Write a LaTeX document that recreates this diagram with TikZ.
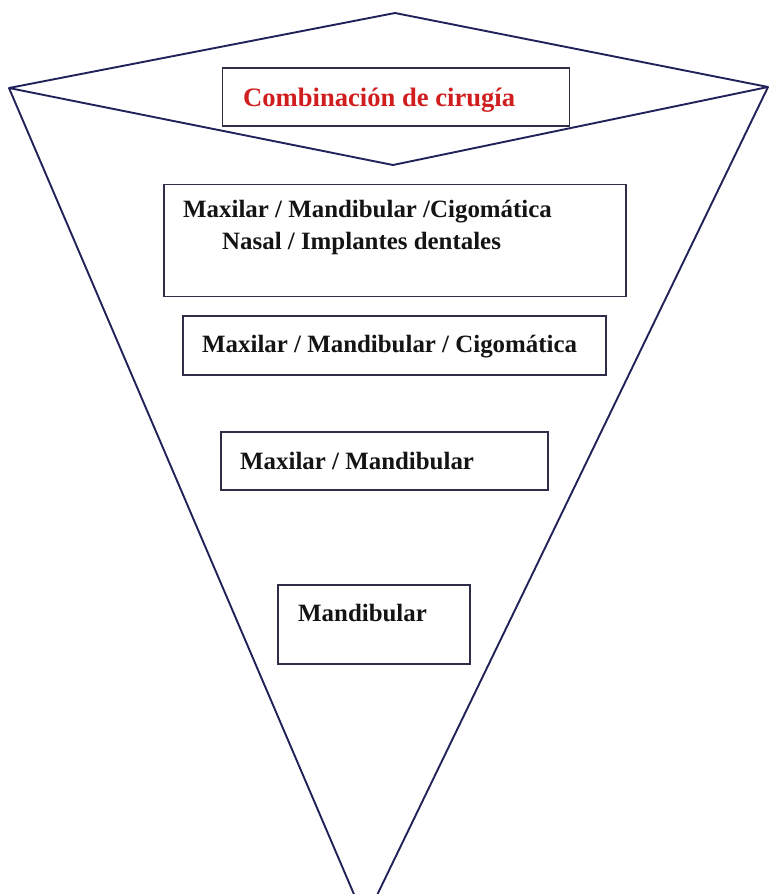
\documentclass[tikz,border=0pt]{standalone}
\usepackage{fontspec}
\setmainfont{Liberation Serif}
\definecolor{navy}{HTML}{22225A}
\definecolor{boxline}{HTML}{2E2E48}
\definecolor{redtxt}{HTML}{D01E1E}
\begin{document}
\begin{tikzpicture}[x=1pt,y=-1pt,
  outline/.style={draw=navy,line width=1.9pt,line join=round},
  levelbox/.style={draw=boxline,line width=1.5pt,fill=white,inner sep=0pt,minimum width=#1},
  lbl/.style={anchor=base west,inner sep=0pt,font=\bfseries\fontsize{24.9}{30}\selectfont,text=black!92}]
\useasboundingbox (0,0) rectangle (769,894);
\clip (0,0) rectangle (769,894);
% outline coordinates
\coordinate (top) at (395,13);
\coordinate (lv) at (9,88);
\coordinate (rv) at (768,87);
\coordinate (dbot) at (393,165);
\coordinate (tip) at (365,920);
% inverted triangle sides
\draw[outline] (lv) -- (tip) -- (rv);
% top diamond
\draw[outline] (top) -- (rv) -- (dbot) -- (lv) -- cycle;
% boxes
\node[levelbox=347pt,minimum height=58pt] (b1) at (396,97) {};
\node[levelbox=462pt,minimum height=112pt] (b2) at (395,240.5) {};
\node[levelbox=423pt,minimum height=59pt] (b3) at (394.5,345.5) {};
\node[levelbox=327pt,minimum height=58pt] (b4) at (384.5,461) {};
\node[levelbox=192pt,minimum height=79pt] (b5) at (374,624.5) {};
% labels
\node[lbl,font=\bfseries\fontsize{26.6}{30}\selectfont,text=redtxt] (t1) at (243,106) {Combinación de cirugía};
\node[lbl] (t2a) at (183,217) {Maxilar / Mandibular /Cigomática};
\node[lbl] (t2b) at (222,249) {Nasal / Implantes dentales};
\node[lbl] (t3) at (202,352) {Maxilar / Mandibular / Cigomática};
\node[lbl] (t4) at (240,469) {Maxilar / Mandibular};
\node[lbl] (t5) at (298,621) {Mandibular};
\end{tikzpicture}
\end{document}
